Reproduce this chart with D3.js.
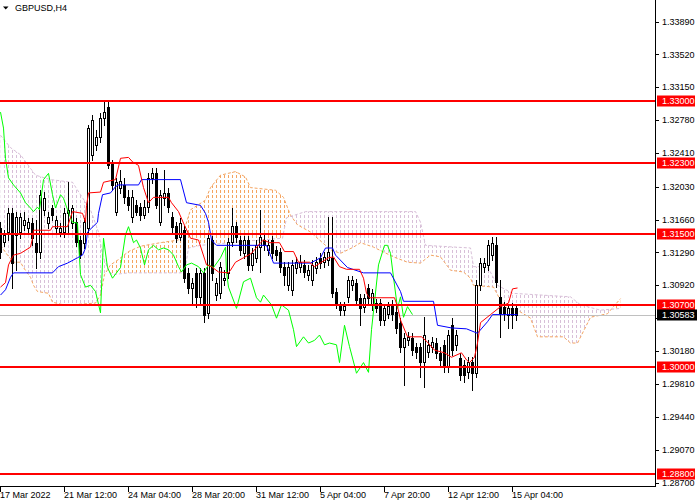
<!DOCTYPE html>
<html><head><meta charset="utf-8">
<script src="https://cdn.jsdelivr.net/npm/d3@7"></script>
<style>
body{margin:0;background:#fff}
svg{display:block}
text{font-family:"Liberation Sans",Arial,sans-serif;font-size:9px}
</style>
</head><body>
<svg id="chart" width="700" height="500"></svg>
<script>
const title = "GBPUSD,H4";
const timeLabels = ["17 Mar 2022","21 Mar 12:00","24 Mar 04:00","28 Mar 20:00","31 Mar 12:00","5 Apr 04:00","7 Apr 20:00","12 Apr 12:00","15 Apr 04:00"];
const timeLabelBars = [0,16,32,48,64,80,96,112,128];
const priceTicks = [1.33890,1.33520,1.33150,1.32780,1.32410,1.32030,1.31660,1.31290,1.30920,1.30550,1.30180,1.29810,1.29440,1.29070,1.28700];
const levels = [1.33000,1.32300,1.31500,1.30700,1.30000,1.28800];
const lastPrice = 1.30583;

const open = [1.3157,1.3141,1.3152,1.3173,1.3149,1.3152,1.3160,1.3157,1.3162,1.3140,
1.3130,1.3177,1.3162,1.3179,1.3157,1.3152,1.3152,1.3173,1.3162,1.3163,
1.3143,1.3140,1.3157,1.3239,1.3250,1.3259,1.3280,1.3293,1.3230,1.3175,
1.3202,1.3205,1.3191,1.3169,1.3182,1.3180,1.3171,1.3180,1.3213,1.3218,
1.3163,1.3190,1.3196,1.3169,1.3159,1.3146,1.3154,1.3106,1.3089,1.3106,
1.3079,1.3106,1.3061,1.3143,1.3081,1.3083,1.3098,1.3106,1.3141,1.3159,
1.3143,1.3128,1.3143,1.3115,1.3123,1.3135,1.3143,1.3132,1.3143,1.3132,
1.3130,1.3113,1.3092,1.3087,1.3112,1.3113,1.3115,1.3104,1.3098,1.3112,
1.3123,1.3118,1.3120,1.3123,1.3085,1.3069,1.3064,1.3079,1.3092,1.3095,
1.3078,1.3068,1.3089,1.3070,1.3072,1.3072,1.3053,1.3060,1.3069,1.3062,
1.3050,1.3022,1.3030,1.3033,1.3022,1.3022,1.3006,1.3017,1.3023,1.3027,
1.3016,1.3025,1.3000,1.3047,1.3025,1.3010,1.3002,1.2994,1.3006,1.2993,
1.3092,1.3113,1.3115,1.3126,1.3137,1.3079,1.3068,1.3059,1.3066,1.3066];
const high = [1.3163,1.3154,1.3179,1.3179,1.3175,1.3173,1.3175,1.3168,1.3168,1.3166,
1.3199,1.3197,1.3175,1.3182,1.3170,1.3162,1.3179,1.3208,1.3182,1.3168,
1.3148,1.3168,1.3273,1.3284,1.3267,1.3286,1.3298,1.3298,1.3233,1.3213,
1.3222,1.3213,1.3199,1.3199,1.3188,1.3185,1.3188,1.3218,1.3224,1.3224,
1.3199,1.3222,1.3202,1.3175,1.3163,1.3168,1.3159,1.3112,1.3100,1.3112,
1.3112,1.3112,1.3151,1.3148,1.3100,1.3118,1.3109,1.3145,1.3179,1.3163,
1.3148,1.3148,1.3148,1.3134,1.3143,1.3177,1.3149,1.3143,1.3148,1.3136,
1.3134,1.3118,1.3118,1.3120,1.3124,1.3126,1.3120,1.3115,1.3120,1.3124,
1.3128,1.3130,1.3169,1.3169,1.3089,1.3073,1.3073,1.3102,1.3102,1.3099,
1.3082,1.3082,1.3093,1.3088,1.3077,1.3077,1.3071,1.3073,1.3075,1.3070,
1.3055,1.3038,1.3039,1.3038,1.3027,1.3027,1.3056,1.3030,1.3034,1.3033,
1.3022,1.3030,1.3042,1.3055,1.3042,1.3016,1.3008,1.3011,1.3011,1.3098,
1.3123,1.3123,1.3143,1.3146,1.3146,1.3098,1.3073,1.3071,1.3072,1.3069];
const low = [1.3123,1.3136,1.3143,1.3089,1.3109,1.3145,1.3154,1.3151,1.3137,1.3112,
1.3123,1.3171,1.3157,1.3166,1.3152,1.3148,1.3146,1.3151,1.3157,1.3136,
1.3123,1.3134,1.3152,1.3233,1.3244,1.3253,1.3273,1.3224,1.3199,1.3171,
1.3196,1.3185,1.3177,1.3163,1.3171,1.3166,1.3168,1.3175,1.3207,1.3179,
1.3160,1.3182,1.3175,1.3152,1.3141,1.3143,1.3096,1.3083,1.3072,1.3068,
1.3070,1.3051,1.3055,1.3098,1.3075,1.3078,1.3092,1.3100,1.3136,1.3141,
1.3126,1.3123,1.3109,1.3109,1.3118,1.3107,1.3132,1.3126,1.3123,1.3120,
1.3107,1.3092,1.3087,1.3081,1.3106,1.3107,1.3101,1.3098,1.3092,1.3106,
1.3112,1.3113,1.3115,1.3079,1.3066,1.3059,1.3059,1.3073,1.3087,1.3070,
1.3047,1.3062,1.3072,1.3064,1.3062,1.3047,1.3047,1.3055,1.3053,1.3038,
1.3017,1.2980,1.3025,1.3014,1.3010,1.2989,1.2978,1.3011,1.3017,1.3010,
1.3002,1.2994,1.2994,1.3014,1.3019,1.2985,1.2983,1.2988,1.2974,1.2989,
1.3087,1.3107,1.3109,1.3120,1.3090,1.3034,1.3053,1.3044,1.3044,1.3053];
const close = [1.3130,1.3149,1.3173,1.3117,1.3169,1.3169,1.3166,1.3163,1.3145,1.3130,
1.3194,1.3190,1.3169,1.3171,1.3166,1.3157,1.3173,1.3177,1.3179,1.3141,
1.3126,1.3163,1.3269,1.3278,1.3259,1.3280,1.3287,1.3227,1.3205,1.3208,
1.3209,1.3191,1.3182,1.3191,1.3175,1.3171,1.3180,1.3213,1.3218,1.3182,
1.3194,1.3196,1.3180,1.3158,1.3145,1.3162,1.3100,1.3089,1.3095,1.3079,
1.3106,1.3059,1.3145,1.3106,1.3095,1.3113,1.3100,1.3141,1.3159,1.3146,
1.3132,1.3143,1.3115,1.3128,1.3137,1.3146,1.3137,1.3137,1.3128,1.3126,
1.3113,1.3104,1.3113,1.3115,1.3118,1.3118,1.3107,1.3109,1.3115,1.3118,
1.3117,1.3124,1.3130,1.3083,1.3072,1.3064,1.3069,1.3098,1.3098,1.3075,
1.3066,1.3078,1.3078,1.3083,1.3066,1.3053,1.3066,1.3069,1.3060,1.3044,
1.3022,1.3033,1.3034,1.3019,1.3017,1.3006,1.3036,1.3025,1.3028,1.3016,
1.3008,1.3000,1.3036,1.3019,1.3036,1.2991,1.2991,1.3006,1.2993,1.3092,
1.3117,1.3117,1.3137,1.3140,1.3096,1.3061,1.3061,1.3066,1.3059,1.30583];

// Ichimoku lines: [bar position, price]
const tenkan = [[0,1.3090],[1.25,1.3095],[2,1.3115],[3.25,1.3126],[5,1.3128],[7.5,1.3135],[8,1.3145],[8.25,1.3154],[12.5,1.3154],[13,1.3158],[16.75,1.3158],[18,1.3175],[20.5,1.3173],[21.25,1.3163],[21.5,1.3182],[22,1.3196],[25,1.3197],[25.75,1.3208],[28.75,1.3211],[30,1.3235],[32,1.3236],[33,1.3231],[34.5,1.3227],[35.75,1.3202],[37,1.3185],[38.25,1.3191],[42,1.3191],[42.75,1.3185],[44.5,1.3175],[45.75,1.3162],[47.5,1.3145],[49.5,1.3143],[51.5,1.3115],[52.75,1.3113],[54.5,1.3107],[57,1.3106],[57.5,1.3109],[58.75,1.3118],[60.75,1.3123],[62.75,1.3128],[65,1.3140],[65.75,1.3143],[67.25,1.3140],[69.75,1.3140],[71,1.3130],[73.25,1.3130],[74.5,1.3118],[77.25,1.3118],[78.5,1.3113],[80.25,1.3118],[82,1.3123],[83.25,1.3124],[84.75,1.3113],[86.5,1.3110],[89.75,1.3110],[90.75,1.3100],[91.5,1.3083],[92.25,1.3078],[98.5,1.3078],[99.25,1.3068],[100,1.3053],[101.75,1.3034],[105.25,1.3034],[106.75,1.3028],[108.5,1.3019],[111,1.3016],[112.75,1.3011],[115.25,1.3016],[116.5,1.3008],[117.25,1.3005],[118.5,1.3011],[119.25,1.3027],[120,1.3050],[122.5,1.3059],[125,1.3068],[127,1.3072],[128,1.3088],[129.25,1.3089]];
const kijun = [[0,1.3081],[1.25,1.3087],[2.5,1.3101],[3.25,1.3106],[13,1.3106],[14.5,1.3113],[16.75,1.3117],[19.25,1.3123],[20.5,1.3126],[21.25,1.3134],[21.75,1.3152],[24.25,1.3163],[24.5,1.3173],[25.5,1.3194],[27.5,1.3196],[28.75,1.3203],[29.5,1.3205],[34.5,1.3205],[35.25,1.3211],[45,1.3211],[46.5,1.3185],[50,1.3182],[51.25,1.3173],[52,1.3163],[52.75,1.3143],[54,1.3137],[66.5,1.3137],[67.75,1.3123],[68.25,1.3117],[77.5,1.3117],[80,1.3123],[81.25,1.3134],[83,1.3134],[83.75,1.3126],[86.75,1.3112],[90.75,1.3106],[97.5,1.3106],[100,1.3085],[100.75,1.3074],[108.25,1.3074],[109.25,1.3047],[112.75,1.3044],[116.5,1.3043],[119.25,1.3038],[121.75,1.3051],[123,1.3059],[129.25,1.3059]];
const chikou = [[0,1.3287],[0.75,1.3269],[1.25,1.3235],[2,1.3213],[3.25,1.3205],[5,1.3196],[6.25,1.3185],[7.5,1.3179],[8.25,1.3175],[9.25,1.3180],[9.75,1.3177],[10.75,1.3211],[12,1.3218],[13,1.3194],[13.75,1.3179],[15,1.3194],[15.75,1.3190],[16.75,1.3177],[18,1.3163],[19.25,1.3162],[19.5,1.3141],[20,1.3104],[21.25,1.3090],[22.5,1.3092],[23.75,1.3085],[25,1.3061],[25.75,1.3145],[26.75,1.3112],[28,1.3100],[30,1.3112],[31.25,1.3149],[32,1.3158],[33.25,1.3140],[34,1.3143],[35,1.3134],[36,1.3115],[37,1.3132],[38.25,1.3137],[39.5,1.3132],[40.75,1.3134],[42,1.3132],[43.25,1.3126],[44.5,1.3113],[45.25,1.3107],[46.5,1.3115],[47.75,1.3117],[49.5,1.3113],[50.75,1.3106],[52,1.3115],[53.25,1.3112],[55,1.3123],[56.25,1.3135],[56.5,1.3107],[57,1.3090],[57.75,1.3081],[59,1.3066],[60.75,1.3096],[62.5,1.3100],[64,1.3078],[65,1.3073],[65.75,1.3081],[67.75,1.3070],[69,1.3055],[70.25,1.3070],[72,1.3064],[73.25,1.3042],[74,1.3023],[75.75,1.3034],[77,1.3027],[78.5,1.3030],[79.75,1.3036],[81,1.3025],[82.25,1.3027],[84,1.3025],[84.75,1.3005],[86,1.3047],[87.25,1.3023],[89,1.2993],[90.75,1.3005],[92,1.2994],[92.75,1.3042],[94.5,1.3115],[96,1.3137],[96.75,1.3137],[97.5,1.3128],[98.25,1.3101],[99.25,1.3066],[100,1.3079],[100.75,1.3056],[101.75,1.3068],[103,1.3059]];
const senkouA = [[0,1.3137],[1.75,1.3126],[3.25,1.3118],[5,1.3118],[5.75,1.3112],[7.5,1.3101],[8.25,1.3092],[9.25,1.3085],[12,1.3083],[13,1.3073],[15.75,1.3070],[17.5,1.3070],[23.75,1.3072],[25,1.3081],[26,1.3104],[27.5,1.3115],[29.5,1.3121],[32,1.3130],[35,1.3136],[40,1.3140],[44.5,1.3143],[45.75,1.3152],[47.5,1.3177],[51.25,1.3188],[52.5,1.3202],[55,1.3216],[58.75,1.3220],[61.25,1.3214],[62.5,1.3202],[68.75,1.3199],[70.75,1.3191],[72.5,1.3171],[74.25,1.3160],[77.5,1.3152],[82.5,1.3132],[85,1.3128],[88.25,1.3135],[90,1.3140],[93.25,1.3135],[98.25,1.3124],[101.75,1.3118],[105,1.3117],[107.5,1.3126],[110,1.3124],[112.5,1.3109],[115.75,1.3107],[117.5,1.3100],[118.25,1.3092],[123.25,1.3090],[125,1.3075],[126.75,1.3066],[129.25,1.3064],[132.5,1.3055],[134.25,1.3034],[140.75,1.3034],[142.5,1.3027],[144.25,1.3027],[147.5,1.3056],[151.75,1.3060],[153.25,1.3068],[155,1.3077]];
const senkouB = [[0,1.3261],[2.5,1.3247],[5,1.3239],[8.75,1.3216],[12.5,1.3211],[18,1.3208],[20,1.3194],[22.5,1.3177],[24.5,1.3152],[25.5,1.3126],[27,1.3109],[28,1.3104],[32,1.3106],[46,1.3106],[47,1.3134],[50,1.3137],[65,1.3143],[70.5,1.3145],[71.5,1.3168],[76.25,1.3175],[103.75,1.3175],[105,1.3163],[106.25,1.3137],[117.5,1.3134],[118.25,1.3113],[121.75,1.3113],[124.25,1.3092],[128,1.3083],[142.5,1.3079],[145,1.3070],[150,1.3064],[155,1.3066]];

const svg = d3.select("#chart");
const plotR = 655, plotB = 487;
const x = d3.scaleLinear().domain([0, 1]).range([0.5, 4.5]);
const y = d3.scaleLinear().domain([1.287, 1.3389]).range([482.5, 21.5]);

const defs = svg.append("defs");
defs.append("clipPath").attr("id","plot").append("rect").attr("x",0).attr("y",0).attr("width",plotR).attr("height",plotB);
function hatch(id, color){
  const p = defs.append("pattern").attr("id",id).attr("width",4).attr("height",5).attr("patternUnits","userSpaceOnUse");
  p.append("rect").attr("x",0).attr("y",0).attr("width",1).attr("height",3).attr("fill",color);
}
hatch("hatchA","#F4A460");
hatch("hatchB","#D8BFD8");
const aboveArea = d3.area().x(d=>x(d[0])).y0(0).y1(d=>y(d[1]));
const belowArea = d3.area().x(d=>x(d[0])).y0(plotB).y1(d=>y(d[1]));
defs.append("clipPath").attr("id","aboveB").append("path").attr("d", aboveArea(senkouB));
defs.append("clipPath").attr("id","aboveA").append("path").attr("d", aboveArea(senkouA));

const g = svg.append("g").attr("clip-path","url(#plot)");
// cloud
g.append("g").attr("clip-path","url(#aboveB)").append("path").attr("d", belowArea(senkouA)).attr("fill","url(#hatchA)");
g.append("g").attr("clip-path","url(#aboveA)").append("path").attr("d", belowArea(senkouB)).attr("fill","url(#hatchB)");
const line = d3.line().x(d=>x(d[0])).y(d=>y(d[1]));
g.append("path").attr("d", line(senkouA)).attr("fill","none").attr("stroke","#F4A460").attr("stroke-dasharray","3,2");
g.append("path").attr("d", line(senkouB)).attr("fill","none").attr("stroke","#D8BFD8").attr("stroke-dasharray","3,2");

// last price line
g.append("line").attr("x1",0).attr("x2",plotR).attr("y1",Math.round(y(lastPrice))+0.5).attr("y2",Math.round(y(lastPrice))+0.5).attr("stroke","#C0C0C0");

// candles
const bars = d3.range(open.length);
const cg = g.append("g").attr("shape-rendering","crispEdges");
cg.selectAll("line.w").data(bars).join("line")
  .attr("x1",i=>x(i)).attr("x2",i=>x(i))
  .attr("y1",i=>Math.round(y(high[i]))).attr("y2",i=>Math.round(y(low[i]))+1)
  .attr("stroke","#000");
cg.selectAll("rect.b").data(bars).join("rect")
  .attr("x",i=>x(i)-1)
  .attr("y",i=>Math.round(y(Math.max(open[i],close[i])))+0.5)
  .attr("width",2)
  .attr("height",i=>Math.max(0, Math.round(y(Math.min(open[i],close[i]))) - Math.round(y(Math.max(open[i],close[i])))))
  .attr("fill",i=>close[i]>=open[i]?"#fff":"#000")
  .attr("stroke","#000");

// indicator lines
g.append("path").attr("d", line(chikou)).attr("fill","none").attr("stroke","#00FF00");
g.append("path").attr("d", line(kijun)).attr("fill","none").attr("stroke","#0000FF");
g.append("path").attr("d", line(tenkan)).attr("fill","none").attr("stroke","#FF0000");

// horizontal levels
g.selectAll("line.lv").data(levels).join("line")
  .attr("x1",0).attr("x2",plotR)
  .attr("y1",d=>Math.round(y(d))).attr("y2",d=>Math.round(y(d)))
  .attr("stroke","#FF0000").attr("stroke-width",2);

// axes
const ax = svg.append("g").attr("shape-rendering","crispEdges");
ax.append("line").attr("x1",plotR+0.5).attr("x2",plotR+0.5).attr("y1",0).attr("y2",plotB).attr("stroke","#000");
ax.append("line").attr("x1",0).attr("x2",plotR+1).attr("y1",plotB-0.5).attr("y2",plotB-0.5).attr("stroke","#000");
ax.selectAll("line.pt").data(priceTicks).join("line")
  .attr("x1",plotR).attr("x2",plotR+4)
  .attr("y1",d=>Math.round(y(d))+0.5).attr("y2",d=>Math.round(y(d))+0.5).attr("stroke","#000");
// tick labels hidden behind the current-price box are not shown (as in the terminal)
const visibleTicks = priceTicks.filter(d => Math.abs(y(d) - y(lastPrice)) > 6);
svg.selectAll("text.pt").data(visibleTicks).join("text")
  .attr("x",662).attr("y",d=>y(d)).attr("dy","0.35em").attr("fill","#000")
  .text(d=>d.toFixed(5));
ax.selectAll("line.tt").data(timeLabelBars).join("line")
  .attr("x1",b=>x(b)).attr("x2",b=>x(b)).attr("y1",plotB).attr("y2",plotB+5).attr("stroke","#000");
svg.selectAll("text.tt").data(timeLabels).join("text")
  .attr("x",(d,i)=>Math.max(0,x(timeLabelBars[i])-0.5)).attr("y",498).attr("fill","#000")
  .text(d=>d);

// level labels
const lb = svg.append("g");
levels.forEach(v=>{
  const yy = Math.round(y(v));
  lb.append("rect").attr("x",657).attr("y",yy-5.5).attr("width",38).attr("height",11).attr("fill","#FF0000");
  lb.append("text").attr("x",662).attr("y",yy).attr("dy","0.35em").attr("fill","#fff").text(v.toFixed(5));
});
{
  const yy = Math.round(y(lastPrice));
  lb.append("rect").attr("x",657).attr("y",yy-5.5).attr("width",40).attr("height",11).attr("fill","#000");
  lb.append("text").attr("x",662).attr("y",yy).attr("dy","0.35em").attr("fill","#fff").text(lastPrice.toFixed(5));
}

// title
svg.append("path").attr("d","M3,6.5L8.5,6.5L5.75,9.5Z").attr("fill","#000");
svg.append("text").attr("x",15).attr("y",10.5).attr("fill","#000").text(title);
</script>
</body></html>
